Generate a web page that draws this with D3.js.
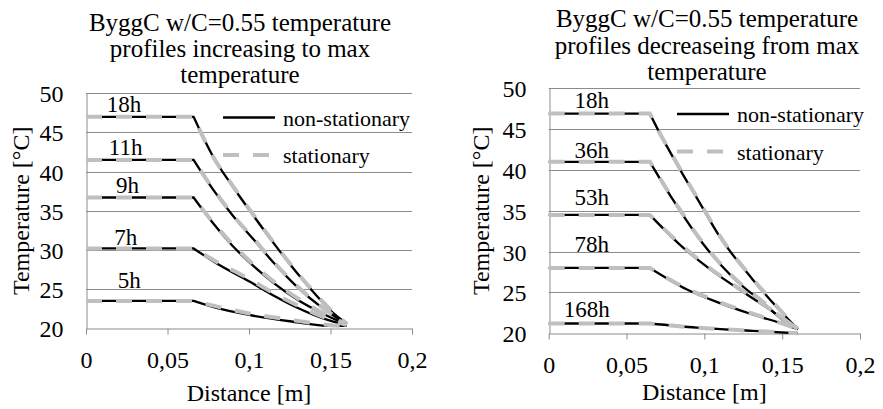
<!DOCTYPE html>
<html>
<head>
<meta charset="utf-8">
<script src="https://cdn.jsdelivr.net/npm/d3@7"></script>
<style>
  body { margin: 0; background: #fff; }
  svg text { font-family: "Liberation Serif", "Times New Roman", serif !important; fill: #000; }
  .grid line { stroke: #8c8c8c; stroke-width: 1; }
  .axis path, .axis line { stroke: #8c8c8c; stroke-width: 1; }
  .axis text { font-size: 24px; }
  .nonstat { fill: none; stroke: #000; stroke-width: 2.3; }
  .stat { fill: none; stroke: #bfbfbf; stroke-width: 4; stroke-dasharray: 16,14; }
</style>
</head>
<body>
<script>
// x ticks / y ticks shared by both panels
const xTicks = [0, 0.05, 0.1, 0.15, 0.2];
const yTicks = [20, 25, 30, 35, 40, 45, 50];

// left panel: increasing to max temperature  ([distance m, temperature °C])
const leftTimes = ['18h', '11h', '9h', '7h', '5h'];
const leftNonStationary = [
  [[0, 47], [0.066, 47], [0.078, 41.9], [0.09, 38.1], [0.103, 34.3], [0.115, 30.9], [0.125, 28.2], [0.14, 24.5], [0.153, 21.7], [0.16, 20.6]],
  [[0, 41.5], [0.066, 41.5], [0.078, 37.7], [0.09, 34.4], [0.103, 31.3], [0.115, 28.4], [0.13, 25.2], [0.145, 22.6], [0.16, 20.5]],
  [[0, 36.7], [0.066, 36.7], [0.078, 33.4], [0.09, 30.5], [0.103, 27.9], [0.115, 25.8], [0.13, 23.6], [0.145, 21.9], [0.16, 20.5]],
  [[0, 30.2], [0.066, 30.2], [0.08, 28.3], [0.1, 26.0], [0.115, 24.2], [0.13, 22.6], [0.145, 21.3], [0.16, 20.4]],
  [[0, 23.5], [0.066, 23.5], [0.08, 22.6], [0.1, 21.7], [0.125, 20.9], [0.15, 20.3], [0.16, 20.3]]
];
const leftStationary = [
  [[0, 47], [0.066, 47], [0.078, 41.9], [0.09, 38.2], [0.103, 34.4], [0.115, 31.0], [0.125, 28.3], [0.14, 24.6], [0.153, 21.8], [0.16, 20.6]],
  [[0, 41.5], [0.066, 41.5], [0.078, 37.8], [0.09, 34.5], [0.103, 31.4], [0.115, 28.5], [0.13, 25.3], [0.145, 22.7], [0.16, 20.5]],
  [[0, 36.7], [0.066, 36.7], [0.078, 33.5], [0.09, 30.7], [0.103, 28.1], [0.115, 26.0], [0.13, 23.8], [0.145, 22.0], [0.16, 20.5]],
  [[0, 30.2], [0.066, 30.2], [0.08, 28.5], [0.1, 26.3], [0.115, 24.5], [0.13, 22.9], [0.145, 21.5], [0.16, 20.4]],
  [[0, 23.5], [0.066, 23.5], [0.08, 22.8], [0.1, 21.9], [0.125, 21.1], [0.15, 20.4], [0.16, 20.3]]
];
const leftLabelPos = [[0.0233, 47.65], [0.0243, 42.1], [0.0254, 37.25], [0.0244, 30.65], [0.0265, 25.1]];

// right panel: decreasing from max temperature
const rightTimes = ['18h', '36h', '53h', '78h', '168h'];
const rightNonStationary = [
  [[0, 46.9], [0.065, 46.9], [0.07, 45.0], [0.083, 40.5], [0.096, 36.3], [0.11, 31.8], [0.131, 26.6], [0.148, 22.9], [0.16, 20.5]],
  [[0, 41.0], [0.065, 41.0], [0.08, 36.3], [0.099, 31.0], [0.118, 26.9], [0.138, 23.7], [0.155, 21.0], [0.16, 20.5]],
  [[0, 34.5], [0.065, 34.5], [0.084, 30.9], [0.104, 27.8], [0.123, 25.3], [0.142, 22.9], [0.16, 20.5]],
  [[0, 28.0], [0.065, 28.0], [0.0885, 25.4], [0.11, 23.7], [0.131, 22.3], [0.153, 21.0], [0.16, 20.5]],
  [[0, 21.2], [0.065, 21.2], [0.095, 20.7], [0.131, 20.3], [0.16, 20.0]]
];
const rightStationary = [
  [[0, 46.9], [0.065, 46.9], [0.07, 45.0], [0.083, 40.6], [0.096, 36.4], [0.11, 31.9], [0.131, 26.7], [0.148, 23.0], [0.16, 20.5]],
  [[0, 41.0], [0.065, 41.0], [0.08, 36.4], [0.099, 31.1], [0.118, 27.0], [0.138, 23.8], [0.155, 21.1], [0.16, 20.5]],
  [[0, 34.5], [0.065, 34.5], [0.084, 31.0], [0.104, 27.9], [0.123, 25.4], [0.142, 23.0], [0.16, 20.5]],
  [[0, 28.0], [0.065, 28.0], [0.0885, 25.5], [0.11, 23.8], [0.131, 22.4], [0.153, 21.0], [0.16, 20.5]],
  [[0, 21.2], [0.065, 21.2], [0.095, 20.7], [0.131, 20.3], [0.16, 20.0]]
];
const rightLabelPos = [[0.0276, 47.55], [0.0276, 41.43], [0.0276, 35.72], [0.0276, 30.0], [0.0245, 22.05]];

const legendNames = ['non-stationary', 'stationary'];

const width = 883;
const height = 409;
const serif = 'Liberation Serif';

const svg = d3.select('body').append('svg')
  .attr('width', width)
  .attr('height', height)
  .attr('font-family', serif);

const fmt = (d) => d === 0 ? '0' : String(d).replace('.', ',');

const drawChart = (cfg) => {
  const x = d3.scaleLinear().domain([0, 0.2]).range([cfg.left, cfg.right]);
  const y = d3.scaleLinear().domain([20, 50]).range([cfg.bottom, cfg.top]);
  const g = svg.append('g');

  // title
  g.append('text')
    .attr('text-anchor', 'middle')
    .style('font-size', '25px')
    .selectAll('tspan')
    .data(cfg.title)
    .enter()
    .append('tspan')
    .attr('x', cfg.titleX)
    .attr('y', (d, i) => cfg.titleY + i * cfg.titleStep)
    .text((d) => d);

  // horizontal gridlines
  g.append('g')
    .attr('class', 'grid')
    .selectAll('line')
    .data(yTicks.slice(1))
    .enter()
    .append('line')
    .attr('x1', x(0)).attr('x2', x(0.2))
    .attr('y1', (d) => Math.round(y(d)) + 0.5)
    .attr('y2', (d) => Math.round(y(d)) + 0.5);

  // y axis
  const yAxis = g.append('g')
    .attr('class', 'axis')
    .attr('transform', `translate(${Math.round(x(0)) + 0.5},0)`)
    .call(d3.axisLeft(y).tickValues(yTicks).tickSizeInner(0).tickSizeOuter(0).tickPadding(23))
    .attr('font-family', serif);
  yAxis.selectAll('text').attr('dy', '0.35em');

  // x axis
  g.append('g')
    .attr('class', 'axis')
    .attr('transform', `translate(0,${Math.round(y(20)) + 0.5})`)
    .call(d3.axisBottom(x).tickValues(xTicks).tickFormat(fmt).tickSizeInner(6).tickSizeOuter(0).tickPadding(16))
    .attr('font-family', serif);

  // axis titles
  g.append('text')
    .attr('x', (x(0) + x(0.2)) / 2 + cfg.xTitleShift)
    .attr('y', cfg.xTitleY)
    .attr('text-anchor', 'middle')
    .style('font-size', '24px')
    .text('Distance [m]');

  g.append('text')
    .attr('transform', `translate(${cfg.yTitleX},${(y(20) + y(50)) / 2}) rotate(-90)`)
    .attr('text-anchor', 'middle')
    .style('font-size', '24px')
    .text('Temperature [°C]');

  // flat part straight, falling part smoothed (keeps the sharp bend)
  const flat = d3.line().x((d) => x(d[0])).y((d) => y(d[1]));
  const fall = d3.line().x((d) => x(d[0])).y((d) => y(d[1])).curve(d3.curveMonotoneX);
  const profile = (pts) => flat(pts.slice(0, 2)) + fall(pts.slice(1)).replace(/^M/, 'L');

  g.append('g')
    .selectAll('path')
    .data(cfg.nonStationary)
    .enter()
    .append('path')
    .attr('class', 'nonstat')
    .attr('d', profile);

  g.append('g')
    .selectAll('path')
    .data(cfg.stationary)
    .enter()
    .append('path')
    .attr('class', 'stat')
    .attr('d', profile);

  // time labels
  g.append('g')
    .selectAll('text')
    .data(cfg.times)
    .enter()
    .append('text')
    .attr('x', (d, i) => x(cfg.labelPos[i][0]))
    .attr('y', (d, i) => y(cfg.labelPos[i][1]))
    .attr('text-anchor', 'middle')
    .style('font-size', '23px')
    .text((d) => d);

  // legend
  const lg = g.append('g').attr('transform', `translate(${cfg.legendX},${cfg.legendY})`);
  lg.append('line').attr('class', 'nonstat').attr('x1', 0).attr('x2', 52).attr('y1', 0).attr('y2', 0);
  lg.append('line').attr('class', 'stat').attr('x1', 0).attr('x2', 52).attr('y1', 37.5).attr('y2', 37.5);
  lg.selectAll('text')
    .data(legendNames)
    .enter()
    .append('text')
    .attr('x', 60)
    .attr('y', (d, i) => 8 + i * 37.5)
    .style('font-size', '22px')
    .text((d) => d);

  g.selectAll('text').attr('font-family', serif).style('font-family', serif);
};

drawChart({
  left: 86, right: 412, top: 93.3, bottom: 328.3,
  title: ['ByggC w/C=0.55 temperature', 'profiles increasing to max', 'temperature'],
  titleX: 240, titleY: 31, titleStep: 25.8,
  xTitleShift: 0, xTitleY: 401, yTitleX: 29,
  nonStationary: leftNonStationary, stationary: leftStationary,
  times: leftTimes, labelPos: leftLabelPos,
  legendX: 223, legendY: 117.5
});

drawChart({
  left: 548.7, right: 860, top: 88.3, bottom: 333.3,
  title: ['ByggC w/C=0.55 temperature', 'profiles decreaseing from max', 'temperature'],
  titleX: 707, titleY: 27, titleStep: 26.5,
  xTitleShift: 0, xTitleY: 400, yTitleX: 489,
  nonStationary: rightNonStationary, stationary: rightStationary,
  times: rightTimes, labelPos: rightLabelPos,
  legendX: 677, legendY: 114
});
</script>
</body>
</html>
